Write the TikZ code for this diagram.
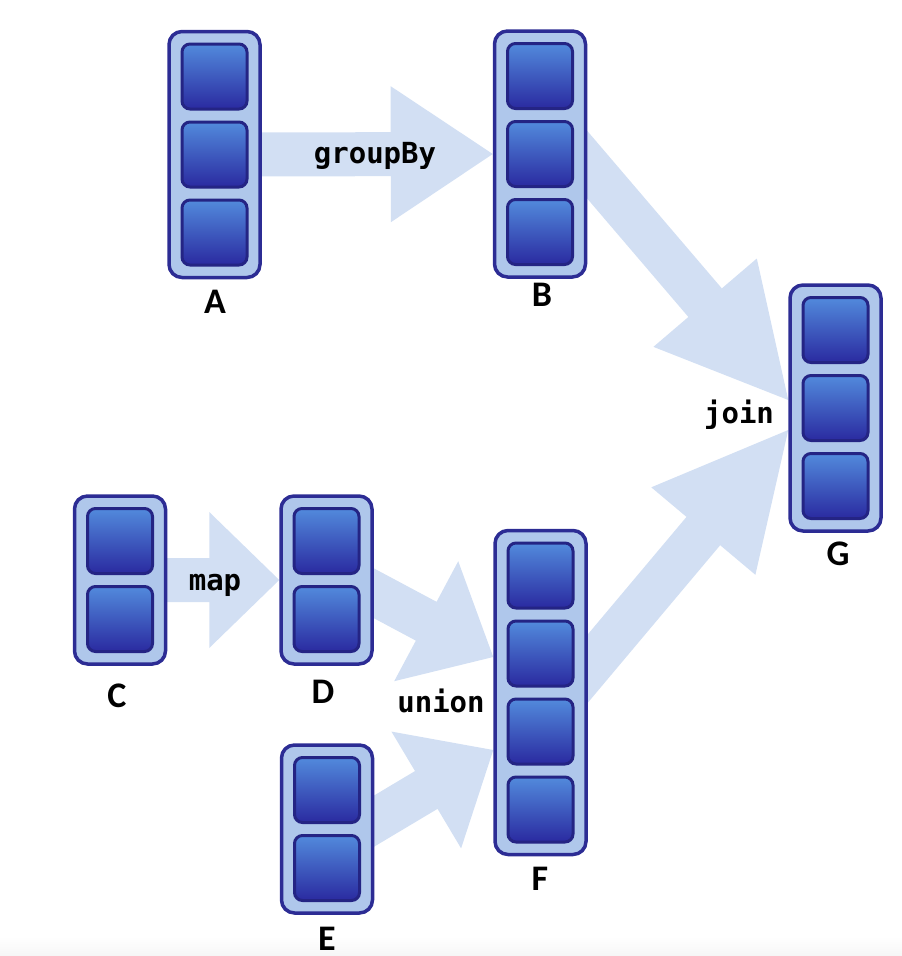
\documentclass[tikz,border=0pt]{standalone}
\usepackage{fontspec}
\setmainfont{Carlito}
\newfontfamily\codefont{DejaVu Sans Mono}
\usetikzlibrary{calc}
\pgfdeclarelayer{bg}
\pgfsetlayers{bg,main}
\definecolor{flow}{RGB}{210,223,243}
\definecolor{boxfill}{RGB}{175,199,235}
\definecolor{boxline}{RGB}{44,44,148}
\definecolor{cellline}{RGB}{36,36,132}
\definecolor{celltop}{RGB}{82,138,220}
\definecolor{cellbot}{RGB}{42,42,160}
\definecolor{floorgray}{RGB}{246,246,246}
\tikzset{
  box/.style={draw=boxline, line width=3.5pt, fill=boxfill, rounded corners=13pt,
    minimum width=91pt, inner sep=0pt},
  cell/.style={draw=cellline, line width=3pt, rounded corners=8pt,
    top color=celltop, bottom color=cellbot,
    minimum width=65pt, minimum height=65pt, inner sep=0pt},
  lbl/.style={font=\bfseries\fontsize{36}{36}\selectfont, anchor=base, inner sep=0pt},
  op/.style={font=\codefont\bfseries\fontsize{29}{29}\selectfont, anchor=base, inner sep=0pt},
  flowarrow/.style={fill=flow, draw=none}
}
\newcommand{\stackbox}[4]{%
  \node[box, minimum height=#4*78pt+12pt] (#1) at (#2,#3) {};
  \foreach \i in {1,...,#4}{%
    \node[cell] (#1\i) at ($(#1.center)+(0,{(\i-(#4+1)/2)*78})$) {};
  }%
}
% start, tip, head length
\newcommand{\fatarrow}[3]{%
  \coordinate (hb) at ($(#2)!#3!(#1)$);
  \fill[flowarrow] ($(#1)!22pt!90:(#2)$) -- ($(hb)!22pt!90:(#2)$)
    -- ($(hb)!68pt!90:(#2)$) -- (#2) -- ($(hb)!68pt!-90:(#2)$)
    -- ($(hb)!22pt!-90:(#2)$) -- ($(#1)!22pt!-90:(#2)$) -- cycle;
}
\begin{document}
\begin{tikzpicture}[x=1pt,y=-1pt]
\useasboundingbox (0,0) rectangle (902,956);
\begin{pgfonlayer}{bg}
  \shade[top color=white, bottom color=floorgray] (0,936) rectangle (902,956);
\end{pgfonlayer}
\stackbox{A}{214.5}{154.5}{3}
\stackbox{B}{540}{154}{3}
\stackbox{G}{835.5}{408}{3}
\stackbox{C}{120}{580}{2}
\stackbox{D}{326.5}{580}{2}
\stackbox{E}{327}{829}{2}
\stackbox{F}{540.5}{692.5}{4}

\coordinate (bgS) at (555,127);
\coordinate (bgT) at ([yshift=8pt]G.west);
\coordinate (fgS) at (558,704);
\coordinate (fgT) at ([yshift=-22pt]G.west);
\coordinate (dfS) at (334,572);
\coordinate (dfT) at ([yshift=35.5pt]F.west);
\coordinate (efS) at (334,845);
\coordinate (efT) at ([yshift=-57.5pt]F.west);

\begin{pgfonlayer}{bg}
  \fatarrow{A.center}{B.west}{102pt}
  \fatarrow{C.center}{D.west}{70pt}
  \fatarrow{dfS}{dfT}{76pt}
  \fatarrow{efS}{efT}{78pt}
  \fatarrow{bgS}{bgT}{128pt}
  \fatarrow{fgS}{fgT}{132pt}
\end{pgfonlayer}

\node[lbl] (la) at (215,313) {A};
\node[lbl] (lb) at (542,306) {B};
\node[lbl] (lg) at (838,565) {G};
\node[lbl] (lc) at (117,707) {C};
\node[lbl] (ld) at (323,703) {D};
\node[lbl] (le) at (327,950) {E};
\node[lbl] (lf) at (540,890) {F};

\node[op] (groupby) at (375,163) {groupBy};
\node[op] (map) at (215,590) {map};
\node[op] (join) at (739,423) {join};
\node[op] (union) at (441,712) {union};
\end{tikzpicture}
\end{document}
